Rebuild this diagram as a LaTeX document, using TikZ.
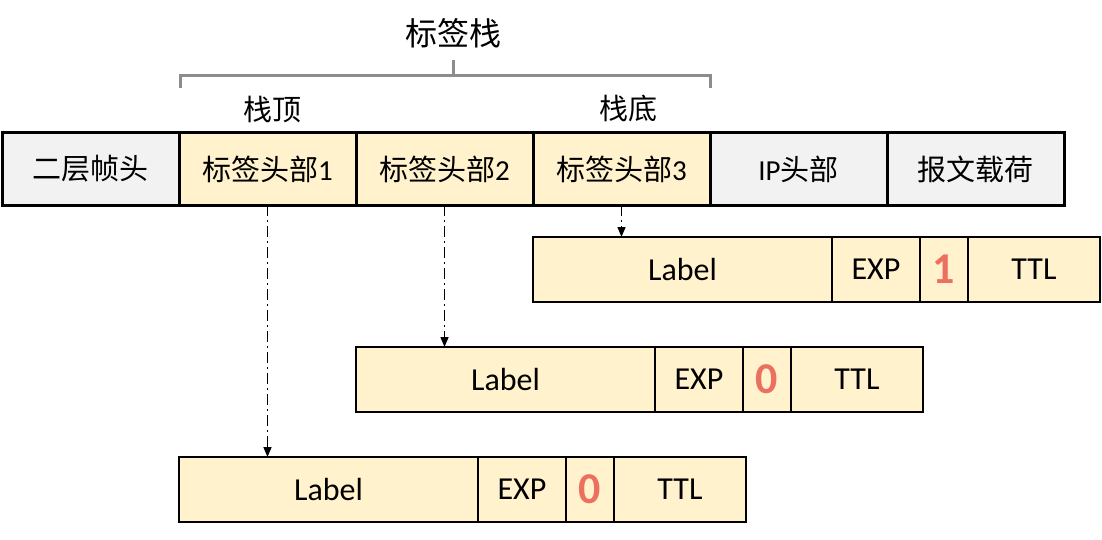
\documentclass[tikz,border=0pt]{standalone}
\usepackage{fontspec}
\setmainfont{Carlito}
\newfontfamily\cjk{Noto Sans CJK SC}
\usetikzlibrary{positioning,arrows.meta}
\definecolor{tagfill}{RGB}{255,242,204}
\definecolor{grayfill}{RGB}{242,242,242}
\definecolor{bitred}{RGB}{236,112,96}
\definecolor{bracegray}{RGB}{140,140,140}
\tikzstyle{frame} = [draw=black, line width=3pt, minimum width=177pt, minimum height=72pt, inner sep=0pt, outer sep=0pt, anchor=west, font=\fontsize{29}{32}\selectfont]
\tikzstyle{other} = [frame, fill=grayfill]
\tikzstyle{tag} = [frame, fill=tagfill]
\tikzstyle{field} = [draw=black, line width=2pt, fill=tagfill, minimum height=65pt, inner sep=0pt, outer sep=0pt, anchor=west, font=\fontsize{32}{36}\selectfont]
\tikzstyle{sbit} = [field, minimum width=48pt, text=bitred, font=\fontsize{44}{48}\selectfont\bfseries]
\tikzstyle{caption} = [font=\fontsize{29}{32}\selectfont\cjk]
\tikzstyle{arrow} = [line width=1.5pt, -{Triangle[length=10pt,width=8pt]}, dash pattern=on 11pt off 4pt on 2pt off 4pt]
\tikzstyle{brace} = [draw=bracegray, line width=3pt]

\begin{document}
\begin{tikzpicture}[x=1pt, y=-1pt]
\useasboundingbox (0,0) rectangle (1102,540);

% packet
\node (l2) [other] at (2,169) {\cjk 二层帧头};
\node (tag1) [tag, right=0pt of l2] {{\cjk 标签头部}1};
\node (tag2) [tag, right=0pt of tag1] {{\cjk 标签头部}2};
\node (tag3) [tag, right=0pt of tag2] {{\cjk 标签头部}3};
\node (ip) [other, right=0pt of tag3] {IP{\cjk 头部}};
\node (payload) [other, right=0pt of ip] {\cjk 报文载荷};

% stack bracket
\node (stack) [font=\fontsize{32}{36}\selectfont\cjk] at (453,33) {标签栈};
\node (top) [caption] at (272,110) {栈顶};
\node (bottom) [caption] at (628,108) {栈底};
\coordinate (bl) at (180,88);
\coordinate (br) at (710,88);
\coordinate (bmid) at (453,76);
\draw [brace] (bl) -- ++(0,-12) -| (br);
\draw [brace] (bmid) -- ++(0,-16);

% label 3
\node (lab3) [field, minimum width=299pt] at (533,269.5) {Label};
\node (exp3) [field, minimum width=88pt, right=0pt of lab3] {EXP};
\node (s3) [sbit, right=0pt of exp3] {1};
\node (ttl3) [field, minimum width=132pt, right=0pt of s3] {TTL};

% label 2
\node (lab2) [field, minimum width=299pt] at (356,379.5) {Label};
\node (exp2) [field, minimum width=88pt, right=0pt of lab2] {EXP};
\node (s2) [sbit, right=0pt of exp2] {0};
\node (ttl2) [field, minimum width=132pt, right=0pt of s2] {TTL};

% label 1
\node (lab1) [field, minimum width=299pt] at (179,489.5) {Label};
\node (exp1) [field, minimum width=88pt, right=0pt of lab1] {EXP};
\node (s1) [sbit, right=0pt of exp1] {0};
\node (ttl1) [field, minimum width=132pt, right=0pt of s1] {TTL};

\draw [arrow] (tag1.south) -- (tag1.south |- lab1.north);
\draw [arrow] (tag2.south) -- (tag2.south |- lab2.north);
\draw [arrow] (tag3.south) -- (tag3.south |- lab3.north);

\end{tikzpicture}
\end{document}
